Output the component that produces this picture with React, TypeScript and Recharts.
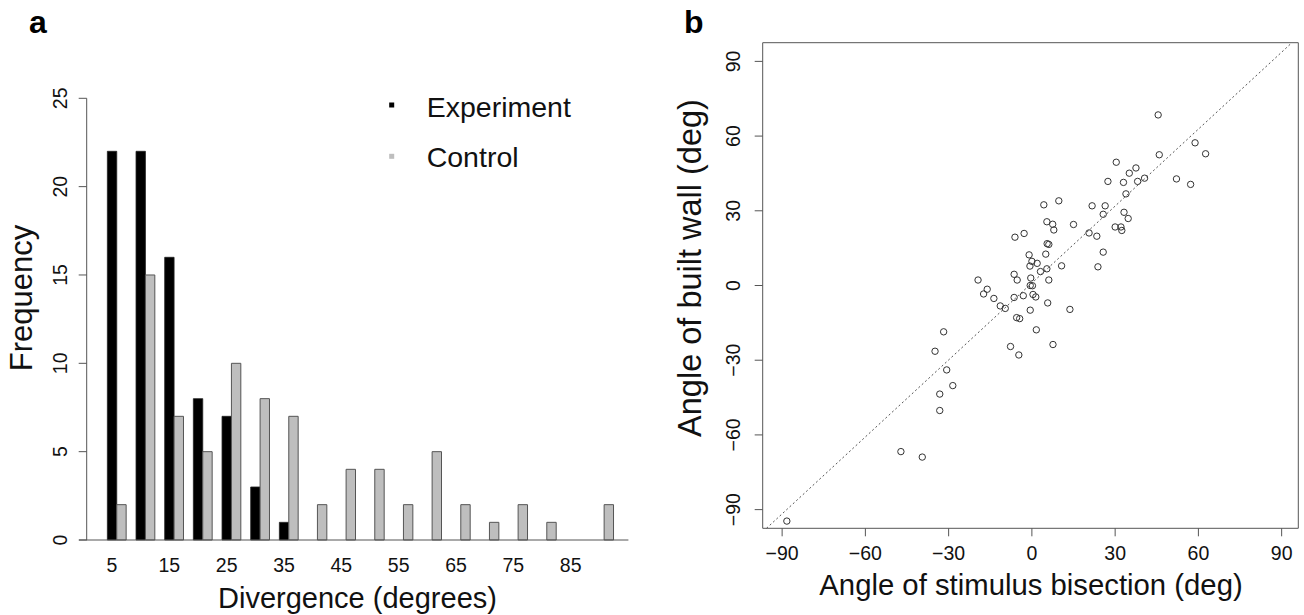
import React from 'react';
import {
  BarChart,
  Bar,
  XAxis,
  YAxis,
  ScatterChart,
  Scatter,
  ReferenceLine,
  ReferenceArea,
} from 'recharts';

const FONT = '"Liberation Sans", Arial, Helvetica, sans-serif';
const INK = '#111';
const AXIS = '#555';

// panel a: divergence histogram
const bins = [5, 10, 15, 20, 25, 30, 35, 40, 45, 50, 55, 60, 65, 70, 75, 80, 85, 90];
const experiment = [22, 22, 16, 8, 7, 3, 1, 0, 0, 0, 0, 0, 0, 0, 0, 0, 0, 0];
const control = [2, 15, 7, 5, 10, 8, 7, 2, 4, 4, 2, 5, 2, 1, 2, 1, 0, 2];
const freqTicks = [0, 5, 10, 15, 20, 25];

// panel b: stimulus bisection vs built wall (deg)
const stimulusAngle = [
  45.5, 58.8, 62.6, 45.9, 30.4, 37.5, 35.1, 27.4, 33.0, 38.1, 40.6, 52.1, 57.2,
  33.9, 9.7, 21.7, 26.4, 25.7, 33.2, 34.7, 7.5, 7.9, 15.0, 30.0, 32.1, 32.4,
  20.6, 23.4, 5.5, 6.1, 25.7, 10.7, 23.8, 6.1, 4.3, 5.4, -6.1, -2.8, 5.0, -1.0,
  0.0, 1.9, -0.7, 5.4, 3.1, -19.4, -6.4, -5.3, -0.4, -16.1, -17.4, -13.7, -0.6,
  0.2, -6.4, -3.1, 0.4, 1.4, -11.4, -9.6, 5.7, -0.6, 13.7, -5.5, -4.4, 1.6,
  -31.8, -7.7, 7.6, -4.7, -34.9, -30.7, -28.5, -33.2, -33.2, -47.2, -39.5, -88.3,
];
const wallAngle = [
  68.5, 57.3, 52.9, 52.5, 49.5, 47.2, 45.1, 41.8, 41.4, 41.8, 43.1, 42.8, 40.6,
  36.8, 34.0, 32.0, 32.0, 28.6, 29.4, 26.9, 24.6, 22.3, 24.5, 23.5, 23.5, 22.1,
  21.1, 19.8, 16.8, 16.5, 13.4, 7.9, 7.5, 2.2, 32.4, 25.6, 19.4, 20.9, 12.6, 12.3,
  9.7, 8.9, 7.8, 6.7, 5.6, 2.2, 4.5, 2.2, 3.0, -1.5, -3.4, -5.2, 0.0,
  -0.1, -4.8, -4.1, -3.6, -4.6, -8.2, -9.2, -7.0, -9.9, -9.6, -12.9, -13.3, -17.8,
  -18.6, -24.5, -23.7, -27.9, -26.4, -33.9, -40.2, -43.6, -50.2, -66.7, -68.9, -94.6,
];
const angleTicks = [-90, -60, -30, 0, 30, 60, 90];
const xDomain: [number, number] = [-97, 96];
const yDomain: [number, number] = [-97.5, 97.5];

// dotted reference line
const lineIntercept = 1.0;
const lineSlope = 1.03;

const histData = bins.map((bin, i) => ({ bin, experiment: experiment[i], control: control[i] }));
const points = stimulusAngle.map((x, i) => ({ x, y: wallAngle[i] }));

const lineSegment = [
  { x: (yDomain[0] - lineIntercept) / lineSlope, y: yDomain[0] },
  { x: (yDomain[1] - lineIntercept) / lineSlope, y: yDomain[1] },
];

const fmtAngle = (v: number) => (v < 0 ? `\u2212${Math.abs(v)}` : `${v}`);

const DivergenceTick = (props: any) => {
  const { x, y, payload } = props;
  // R puts the bin names under the first bar of each pair
  return (
    <text x={x - 4.7} y={y + 17} dy="0.36em" textAnchor="middle" fontSize={19.5} fill={INK} fontFamily={FONT}>
      {payload.value}
    </text>
  );
};

const RotatedYTick = (props: any) => {
  const { x, y, payload, shift, format } = props;
  const label = format ? format(payload.value) : payload.value;
  return (
    <text
      transform={`translate(${x + shift},${y}) rotate(-90)`}
      dy="0.36em"
      textAnchor="middle"
      fontSize={19.5}
      fill={INK}
      fontFamily={FONT}
    >
      {label}
    </text>
  );
};

const AngleXTick = (props: any) => {
  const { x, y, payload } = props;
  return (
    <text x={x} y={y + 15} dy="0.36em" textAnchor="middle" fontSize={19.5} fill={INK} fontFamily={FONT}>
      {fmtAngle(payload.value)}
    </text>
  );
};

const OpenCircle = (props: any) => (
  <circle cx={props.cx} cy={props.cy} r={3.2} fill="none" stroke="#333" strokeWidth={1} />
);

const App = () => {
  return (
    <div style={{ position: 'absolute', left: 0, top: 0, width: 1304, height: 615, background: '#fff', fontFamily: FONT }}>
      {/* panel a */}
      <div style={{ position: 'absolute', left: 0, top: 0 }}>
        <BarChart
          width={660}
          height={615}
          data={histData}
          margin={{ top: 98.3, right: 31.6, bottom: 0, left: 0 }}
          barGap={0}
          barSize={9.4}
        >
          <XAxis
            dataKey="bin"
            height={75}
            interval={1}
            tickLine={false}
            axisLine={{ stroke: AXIS }}
            padding={{ left: 15.65, right: 10 }}
            tick={<DivergenceTick />}
          />
          <YAxis
            width={86.7}
            domain={[0, 25]}
            ticks={freqTicks}
            tickSize={8}
            tickLine={{ stroke: AXIS }}
            axisLine={{ stroke: AXIS }}
            tick={<RotatedYTick shift={-16.7} />}
          />
          <Bar dataKey="experiment" fill="#000" stroke="#222" strokeWidth={0.8} isAnimationActive={false} />
          <Bar dataKey="control" fill="#bebebe" stroke="#555" strokeWidth={1} isAnimationActive={false} />
        </BarChart>
      </div>

      {/* panel b */}
      <div style={{ position: 'absolute', left: 660, top: 0 }}>
        <ScatterChart width={644} height={615} margin={{ top: 42.7, right: 5.7, bottom: 0, left: 0 }}>
          <XAxis
            type="number"
            dataKey="x"
            domain={xDomain}
            ticks={angleTicks}
            allowDataOverflow
            height={86.7}
            tickSize={8}
            tickLine={{ stroke: AXIS }}
            axisLine={false}
            tick={<AngleXTick />}
          />
          <YAxis
            type="number"
            dataKey="y"
            domain={yDomain}
            ticks={angleTicks}
            allowDataOverflow
            width={102.7}
            tickSize={8}
            tickLine={{ stroke: AXIS }}
            axisLine={false}
            tick={<RotatedYTick shift={-19.4} format={fmtAngle} />}
          />
          <ReferenceArea x1={xDomain[0]} x2={xDomain[1]} y1={yDomain[0]} y2={yDomain[1]} fill="none" stroke={AXIS} strokeWidth={1} fillOpacity={0} />
          <ReferenceLine segment={lineSegment} stroke="#555" strokeDasharray="2 2.5" strokeWidth={1} />
          <Scatter data={points} isAnimationActive={false} shape={<OpenCircle />} />
        </ScatterChart>
      </div>

      {/* titles, axis labels and legend */}
      <svg width={1304} height={615} style={{ position: 'absolute', left: 0, top: 0, pointerEvents: 'none' }} fontFamily={FONT}>
        <text x={29} y={33} fontSize={32} fontWeight="bold" fill="#000">a</text>
        <text x={684} y={33} fontSize={32} fontWeight="bold" fill="#000">b</text>

        <line x1={79} y1={540} x2={87} y2={540} stroke={AXIS} />
        <text x={357.5} y={608} fontSize={29} textAnchor="middle" fill={INK}>Divergence (degrees)</text>
        <text transform="translate(31.5,298) rotate(-90)" fontSize={31} textAnchor="middle" fill={INK}>Frequency</text>

        <rect x={389.2} y={102.5} width={5} height={5} fill="#000" />
        <text x={426.7} y={116.7} fontSize={28.5} fill={INK}>Experiment</text>
        <rect x={389.2} y={153.8} width={5} height={5} fill="#bebebe" />
        <text x={426.7} y={166.7} fontSize={28.5} fill={INK}>Control</text>

        <text x={1031} y={595} fontSize={29.3} textAnchor="middle" fill={INK}>Angle of stimulus bisection (deg)</text>
        <text transform="translate(701,268) rotate(-90)" fontSize={32.5} textAnchor="middle" fill={INK}>Angle of built wall (deg)</text>
      </svg>
    </div>
  );
};

export default App;
